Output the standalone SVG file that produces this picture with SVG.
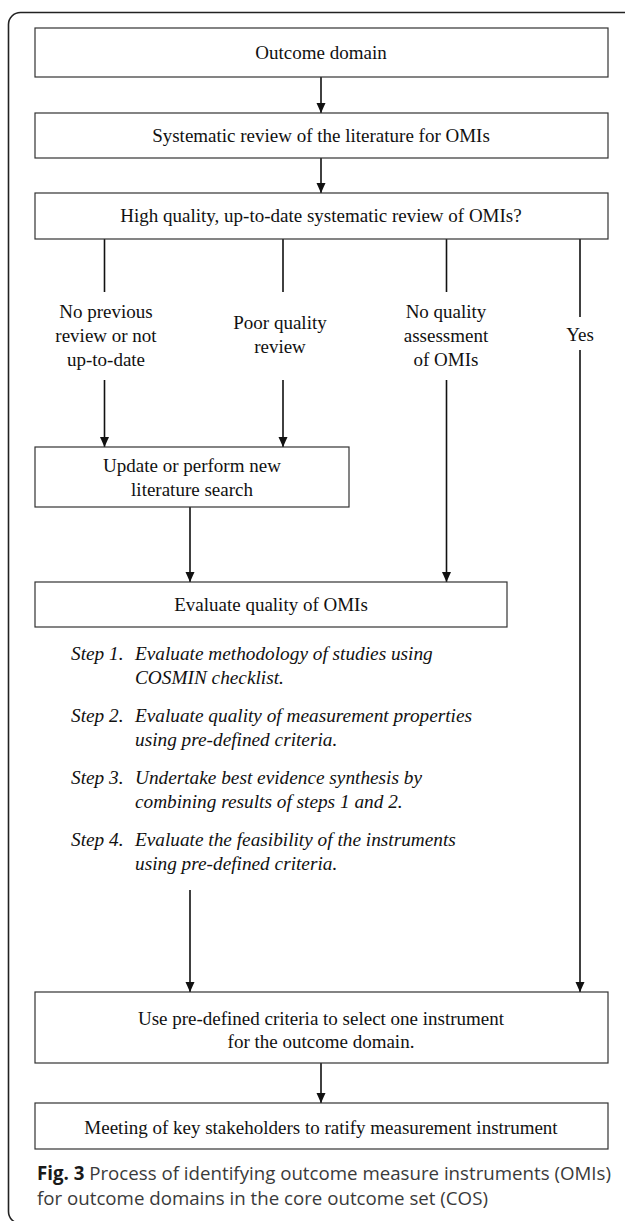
<svg xmlns="http://www.w3.org/2000/svg" width="625" height="1221" viewBox="0 0 625 1221">
<defs>
<marker id="ah" markerWidth="10" markerHeight="12" refX="10" refY="6" orient="auto" markerUnits="userSpaceOnUse">
<path d="M0,1.5 L10,6 L0,10.5 Z" fill="#111"/>
</marker>
<style>
.box{fill:#fff;stroke:#333;stroke-width:1.2}
.t{font-family:"Liberation Serif","Times New Roman",serif;font-size:19px;fill:#111;text-anchor:middle}
.s{font-family:"Liberation Serif","Times New Roman",serif;font-size:19.3px;font-style:italic;fill:#111}
.c{stroke:#111;stroke-width:1.6;fill:none}
.cap{font-family:"Open Sans",sans-serif;font-size:18.7px;fill:#3a3a3a}
</style>
</defs>
<rect x="8.5" y="12.5" width="640" height="1211" rx="12" fill="none" stroke="#222" stroke-width="1.6"/>
<g id="connectors">
<line class="c" x1="321" y1="77" x2="321" y2="113" marker-end="url(#ah)"/>
<line class="c" x1="321" y1="158" x2="321" y2="193" marker-end="url(#ah)"/>
<line class="c" x1="104.5" y1="239" x2="104.5" y2="292"/>
<line class="c" x1="283" y1="239" x2="283" y2="292"/>
<line class="c" x1="446.5" y1="239" x2="446.5" y2="292"/>
<line class="c" x1="580" y1="239" x2="580" y2="317"/>
<line class="c" x1="104.5" y1="380" x2="104.5" y2="447" marker-end="url(#ah)"/>
<line class="c" x1="283" y1="380" x2="283" y2="447" marker-end="url(#ah)"/>
<line class="c" x1="446.5" y1="380" x2="446.5" y2="582" marker-end="url(#ah)"/>
<line class="c" x1="580" y1="350" x2="580" y2="992" marker-end="url(#ah)"/>
<line class="c" x1="190" y1="507" x2="190" y2="582" marker-end="url(#ah)"/>
<line class="c" x1="190" y1="890" x2="190" y2="992" marker-end="url(#ah)"/>
<line class="c" x1="321" y1="1063" x2="321" y2="1103" marker-end="url(#ah)"/>
<text class="t" x="106" y="318">No previous</text>
<text class="t" x="106" y="342">review or not</text>
<text class="t" x="106" y="366">up-to-date</text>
<text class="t" x="280" y="329">Poor quality</text>
<text class="t" x="280" y="353">review</text>
<text class="t" x="446" y="318">No quality</text>
<text class="t" x="446" y="342">assessment</text>
<text class="t" x="446" y="366">of OMIs</text>
<text class="t" x="580" y="341">Yes</text>
</g>
<g id="n1"><rect class="box" x="35" y="28" width="573" height="49"/><text class="t" x="321" y="59">Outcome domain</text></g>
<g id="n2"><rect class="box" x="35" y="113" width="573" height="45"/><text class="t" x="321" y="142">Systematic review of the literature for OMIs</text></g>
<g id="n3"><rect class="box" x="35" y="193" width="573" height="46"/><text class="t" x="321" y="222">High quality, up-to-date systematic review of OMIs?</text></g>
<g id="n4"><rect class="box" x="35" y="447" width="314" height="60"/><text class="t" x="192" y="472">Update or perform new</text><text class="t" x="192" y="496">literature search</text></g>
<g id="n5"><rect class="box" x="35" y="582" width="472" height="45"/><text class="t" x="271" y="611">Evaluate quality of OMIs</text></g>
<g id="steps">
<text class="s" x="71" y="660">Step 1.</text><text class="s" x="135" y="660">Evaluate methodology of studies using</text><text class="s" x="135" y="684">COSMIN checklist.</text>
<text class="s" x="71" y="722">Step 2.</text><text class="s" x="135" y="722">Evaluate quality of measurement properties</text><text class="s" x="135" y="746">using pre-defined criteria.</text>
<text class="s" x="71" y="784">Step 3.</text><text class="s" x="135" y="784">Undertake best evidence synthesis by</text><text class="s" x="135" y="808">combining results of steps 1 and 2.</text>
<text class="s" x="71" y="846">Step 4.</text><text class="s" x="135" y="846">Evaluate the feasibility of the instruments</text><text class="s" x="135" y="870">using pre-defined criteria.</text>
</g>
<g id="n6"><rect class="box" x="35" y="992" width="573" height="71"/><text class="t" x="321" y="1025">Use pre-defined criteria to select one instrument</text><text class="t" x="321" y="1048">for the outcome domain.</text></g>
<g id="n7"><rect class="box" x="35" y="1103" width="573" height="46"/><text class="t" x="321" y="1134">Meeting of key stakeholders to ratify measurement instrument</text></g>
<g id="caption">
<text class="cap" x="37" y="1180"><tspan font-weight="bold" fill="#1a1a1a">Fig. 3</tspan> Process of identifying outcome measure instruments (OMIs)</text>
<text class="cap" x="37" y="1205">for outcome domains in the core outcome set (COS)</text>
</g>
</svg>
